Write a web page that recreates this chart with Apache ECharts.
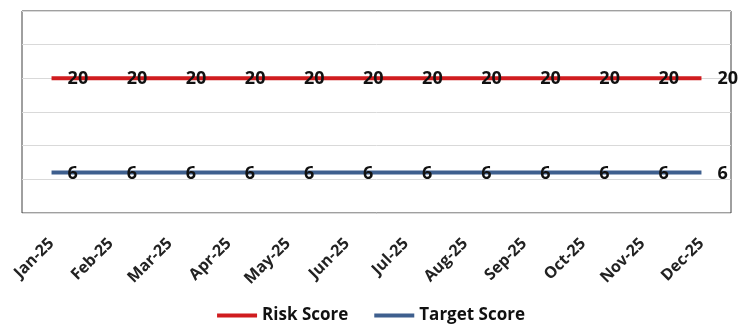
<!DOCTYPE html>
<html lang="en">
<head>
    <meta charset="UTF-8">
    <title>Risk Score vs Target Score</title>
    <script src="https://cdn.jsdelivr.net/npm/echarts@6/dist/echarts.min.js"></script>
    <style>
        html, body { margin: 0; padding: 0; background: #fff; }
        #chart { width: 742px; height: 326px; }
    </style>
</head>
<body>
    <div id="chart"></div>
    <script>
        // data
        var months = ['Jan-25', 'Feb-25', 'Mar-25', 'Apr-25', 'May-25', 'Jun-25',
            'Jul-25', 'Aug-25', 'Sep-25', 'Oct-25', 'Nov-25', 'Dec-25'];
        var riskScore = [20, 20, 20, 20, 20, 20, 20, 20, 20, 20, 20, 20];
        var targetScore = [6, 6, 6, 6, 6, 6, 6, 6, 6, 6, 6, 6];

        var myChart = echarts.init(document.getElementById('chart'));

        // label style shared by both lines
        var pointLabel = {
            show: true,
            position: 'right',
            distance: 16,
            offset: [0, 1],
            color: '#111',
            fontFamily: 'Open Sans',
            fontWeight: 'bold',
            fontSize: 18
        };

        var option = {
            animation: false,
            grid: {
                left: 22,
                right: 11,
                top: 11,
                bottom: 113,
                show: true,
                borderColor: '#404040',
                borderWidth: 1
            },
            legend: {
                bottom: -3,
                left: 'center',
                icon: 'rect',
                itemWidth: 40,
                itemHeight: 4,
                itemGap: 26,
                textStyle: {
                    fontFamily: 'Open Sans',
                    fontWeight: 'bold',
                    fontSize: 17,
                    color: '#111'
                },
                data: ['Risk Score', 'Target Score']
            },
            xAxis: {
                type: 'category',
                boundaryGap: true,
                data: months,
                axisLine: { show: false },
                axisTick: { show: false },
                axisLabel: {
                    rotate: 45,
                    margin: 28,
                    interval: 0,
                    color: '#222',
                    fontFamily: 'Open Sans',
                    fontWeight: 'bold',
                    fontSize: 16
                }
            },
            yAxis: {
                type: 'value',
                min: 0,
                max: 30,
                interval: 5,
                axisLabel: { show: false },
                axisLine: { show: false },
                axisTick: { show: false },
                splitLine: { lineStyle: { color: '#d9d9d9' } }
            },
            series: [{
                    name: 'Risk Score',
                    type: 'line',
                    data: riskScore,
                    symbol: 'circle',
                    symbolSize: 0.1,
                    itemStyle: { color: '#d01c1f' },
                    lineStyle: { color: '#d01c1f', width: 4 },
                    label: pointLabel
                },
                {
                    name: 'Target Score',
                    type: 'line',
                    data: targetScore,
                    symbol: 'circle',
                    symbolSize: 0.1,
                    itemStyle: { color: '#3e5f8e' },
                    lineStyle: { color: '#3e5f8e', width: 4 },
                    label: pointLabel
                }
            ]
        };
        myChart.setOption(option);
    </script>
</body>
</html>
